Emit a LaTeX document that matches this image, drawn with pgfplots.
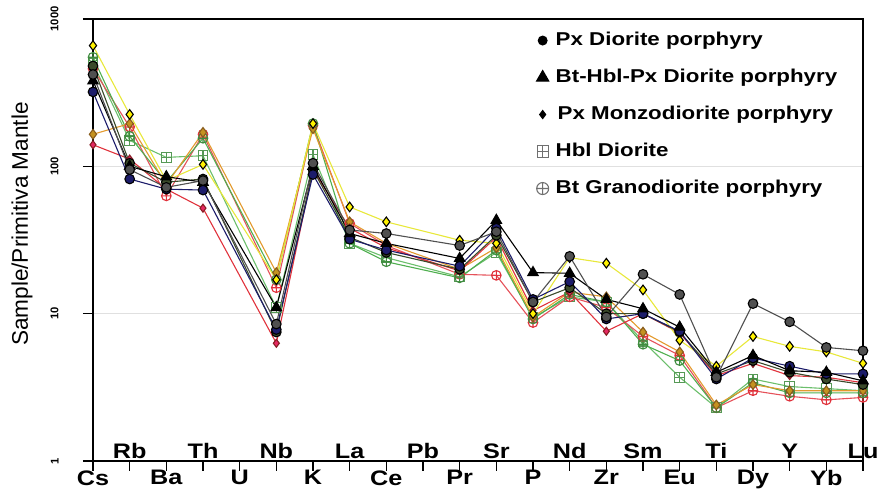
\documentclass[border=0pt]{standalone}
\usepackage{pgfplots}
\pgfplotsset{compat=1.18}
\usepackage{pgfplotstable}
\usepackage{fontspec}
\setmainfont{Liberation Sans}[FakeStretch=1.2]
\newfontfamily\plainsans{Liberation Sans}
\usetikzlibrary{plotmarks}

\definecolor{hiGray}{HTML}{505050}
\definecolor{navyc}{HTML}{1C1C6A}
\definecolor{yelc}{HTML}{E8E83A}
\definecolor{redc}{HTML}{E0323C}
\definecolor{grnc}{HTML}{6CBF6C}
\definecolor{grn2}{HTML}{4FAF4F}
\definecolor{orgc}{HTML}{E39A2E}
\definecolor{olvc}{HTML}{3A4A2A}
\definecolor{legGray}{HTML}{707070}

% square with a plus inside (Hbl Diorite)
\pgfdeclareplotmark{boxplus}{%
  \pgfpathrectangle{\pgfqpoint{-\pgfplotmarksize}{-\pgfplotmarksize}}{\pgfqpoint{2\pgfplotmarksize}{2\pgfplotmarksize}}%
  \pgfpathmoveto{\pgfqpoint{-\pgfplotmarksize}{0pt}}\pgfpathlineto{\pgfqpoint{\pgfplotmarksize}{0pt}}%
  \pgfpathmoveto{\pgfqpoint{0pt}{-\pgfplotmarksize}}\pgfpathlineto{\pgfqpoint{0pt}{\pgfplotmarksize}}%
  \pgfusepathqstroke}

% normalised values, U and Pb not analysed
\pgfplotstableread{
x  s1    s2    s3    s4    s5    s6    s7    s8    s9    s10
0  420   380   320   660   140   500   460   550   480   165
1  95    100   82    225   112   150   185   160   105   195
2  72    85    70    80    70    115   63    78    78    75
3  80    78    69    103   52    118   165   155   82    170
5  8.5   11    7.8   17    6.3   11    15    17    7.5   19
6  105   100   88    195   95    120   190   195   95    180
7  37    35    32    53    38    30    41    30    33    42
8  35    30    27    42    28    24    29    22.5  26    30
10 29    23.7  21    31.5  19.5  17.8  18.5  17.5  20    20
11 36    43    38    30    33    26    18.2  27    34    28
12 12    19    12.5  10    10.5  9.4   8.7   9.2   12    9.5
13 24.5  18.8  16.5  24    14    13    13    13.5  15    14
14 9.5   12.5  9.2   22    7.6   12    11    12    10    13
15 18.5  10.8  10    14.5  10    6.5   7.0   6.2   10    7.5
16 13.5  8.1   7.6   6.6   7.4   3.7   5.2   4.8   7.5   5.5
17 3.7   4.0   3.6   4.4   3.8   2.3   2.3   2.3   3.9   2.4
18 11.7  5.2   5.0   7.0   4.6   3.6   3.0   3.4   4.8   3.3
19 8.8   4.1   4.4   6.0   3.8   3.2   2.75  2.9   4.0   3.0
20 5.9   4.0   3.9   5.5   3.7   3.1   2.6   2.9   3.6   3.0
21 5.6   3.5   3.9   4.6   3.4   3.0   2.7   2.9   3.3   3.0
}\spider

\begin{document}
\begin{tikzpicture}
\useasboundingbox (-46.5bp,-14bp) rectangle (393bp,230.5bp);
\begin{axis}[
    at={(0,0)}, anchor=south west,
    scale only axis,
    width=385bp, height=221bp,
    ymode=log, ymin=1, ymax=1000,
    xmin=0, xmax=21,
    xtick={0,2,...,20},
    xticklabels={Cs,Ba,U,K,Ce,Pr,P,Zr,Eu,Dy,Yb},
    extra x ticks={1,3,...,21},
    extra x tick labels={Rb,Th,Nb,La,Pb,Sr,Nd,Sm,Ti,Y,Lu},
    extra x tick style={grid=none, xticklabel style={anchor=base, yshift=5.5bp}},
    xticklabel style={font=\fontsize{10.5bp}{12bp}\selectfont\bfseries, anchor=north, inner sep=0pt, yshift=0.5bp},
    ytick={1,10,100,1000},
    yticklabels={1,10,100,1000},
    yminorticks=false,
    yticklabel style={font=\plainsans\fontsize{5.6bp}{6bp}\selectfont\bfseries, rotate=90, anchor=south, inner sep=0pt},
    yticklabel shift=12bp,
    xtick pos=lower, ytick pos=left,
    tick align=outside, major tick length=5bp,
    every tick/.style={black, line width=0.6bp},
    axis line style={line width=0.6bp},
    ymajorgrids,
    major grid style={black!12, line width=0.8bp},
    ylabel={Sample/Primitiva Mantle},
    ylabel style={font=\plainsans\fontsize{11.3bp}{13bp}\selectfont, at={(axis description cs:-0.0922,0.536)}, anchor=center},
    clip=false,
    every axis plot/.append style={line width=0.55bp, mark size=2.4bp, forget plot},
    legend cell align=left,
    legend style={at={(0.5756,0.977)}, anchor=north west, draw=none, fill=none,
        inner sep=0pt, row sep=7.5bp,
        font=\fontsize{9.3bp}{11bp}\selectfont\bfseries,
        nodes={inner sep=1bp, text height=7bp, text depth=2bp}},
]
% green / red group
\addplot[color=grnc, mark=boxplus, mark options={draw=grnc!80!black}] table[x=x,y=s6] {\spider};
\addplot[color=redc!85, mark=oplus, mark options={draw=redc}] table[x=x,y=s7] {\spider};
\addplot[color=grn2, mark=oplus, mark options={draw=grn2!80!black}] table[x=x,y=s8] {\spider};
\addplot[color=orgc, mark=diamond*, mark options={fill=orgc!70!olive, draw=orgc!60!black}] table[x=x,y=s10] {\spider};
\addplot[color=redc, mark=diamond*, mark size=2bp, mark options={fill=redc!80!magenta, draw=redc!60!black}] table[x=x,y=s5] {\spider};
% yellow
\addplot[color=yelc, mark=diamond*, mark options={fill=yellow, draw=black}] table[x=x,y=s4] {\spider};
% dark group
\addplot[color=olvc, mark=*, mark options={fill=olvc, draw=black}] table[x=x,y=s9] {\spider};
\addplot[color=navyc, mark=*, mark options={fill=navyc, draw=black}] table[x=x,y=s3] {\spider};
\addplot[color=black, mark=triangle*, mark size=3bp] table[x=x,y=s2] {\spider};
\addplot[color=hiGray, mark=*, mark options={fill=hiGray, draw=black}] table[x=x,y=s1] {\spider};

\addlegendimage{only marks, mark=*, black, mark size=2.2bp}
\addlegendentry{\hspace{2.5bp}Px Diorite porphyry}
\addlegendimage{only marks, mark=triangle*, black, mark size=3.5bp}
\addlegendentry{\hspace{2.5bp}Bt-Hbl-Px Diorite porphyry}
\addlegendimage{only marks, mark=diamond*, black, mark size=2bp}
\addlegendentry{\hspace{3.5bp}Px Monzodiorite porphyry}
\addlegendimage{only marks, mark=boxplus, legGray, mark size=2.8bp}
\addlegendentry{\hspace{2.5bp}Hbl Diorite}
\addlegendimage{only marks, mark=oplus, legGray, mark size=3bp}
\addlegendentry{\hspace{2.5bp}Bt Granodiorite porphyry}
\end{axis}
\end{tikzpicture}
\end{document}
